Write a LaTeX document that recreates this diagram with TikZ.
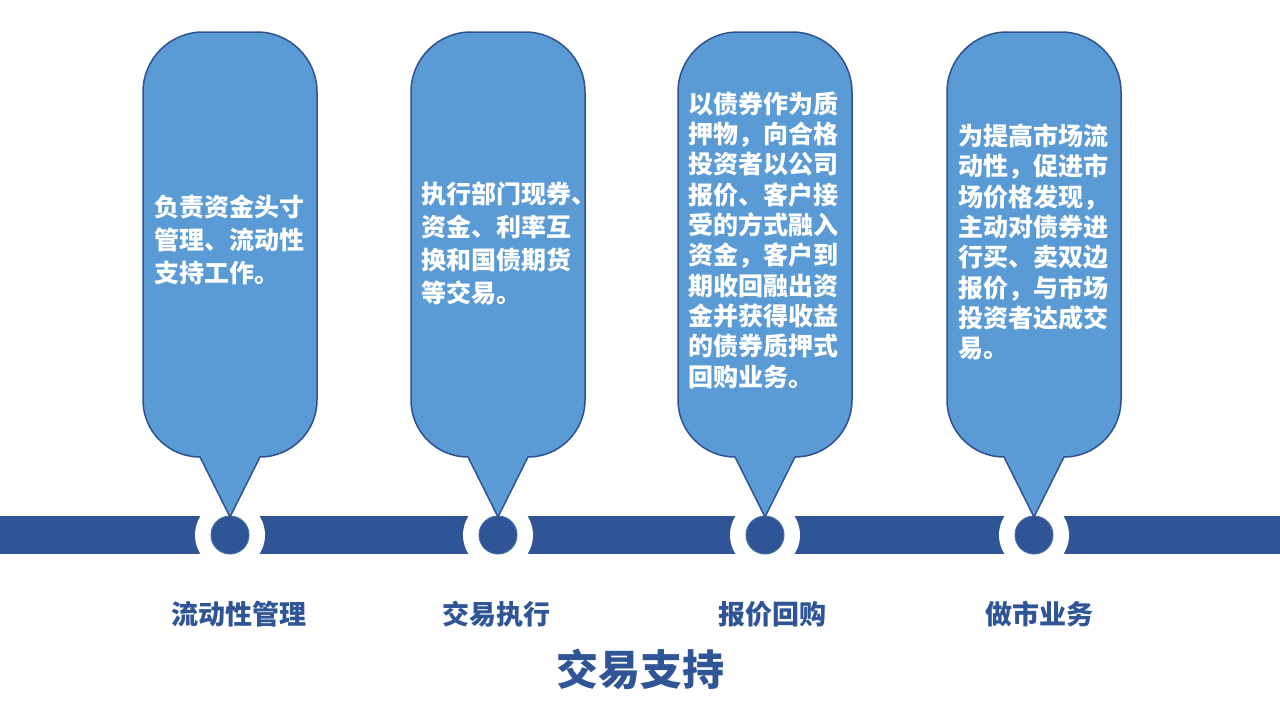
\documentclass[tikz,border=0pt]{standalone}
\usepackage{fontspec}
\newfontfamily\cjk{Noto Sans CJK SC}
\definecolor{bubfill}{HTML}{5B9BD5}
\definecolor{bubline}{HTML}{2F528F}
\definecolor{band}{HTML}{2F5597}
\definecolor{ringline}{HTML}{41719C}
\tikzset{
  bubble/.style={fill=bubfill, draw=bubline, line width=1.5pt, line join=round},
  bubtext/.style={anchor=west, align=left, text=white, inner sep=0pt,
    font={\cjk\bfseries\fontsize{25}{33}\selectfont}},
  bubtextdense/.style={bubtext, font={\cjk\bfseries\fontsize{25}{30.3}\selectfont}},
  dot/.style={circle, fill=band, draw=ringline, line width=1pt, minimum size=38pt, inner sep=0pt},
  gap/.style={circle, fill=white, minimum size=70pt, inner sep=0pt},
  label/.style={text=band, font={\cjk\bfseries\fontsize{27}{31}\selectfont}},
  title/.style={text=band, font={\cjk\bfseries\fontsize{42}{48}\selectfont}}
}
\newcommand{\callout}[1]{%
  \draw[bubble] ({#1+30},457) arc[start angle=90, end angle=0, radius=57]
    -- ({#1+87},92) arc[start angle=0, end angle=-90, radius=60]
    -- ({#1-27},32) arc[start angle=-90, end angle=-180, radius=60]
    -- ({#1-87},400) arc[start angle=180, end angle=90, radius=57]
    -- (#1,517) -- cycle;}
\begin{document}
\begin{tikzpicture}[x=1pt,y=-1pt]
\useasboundingbox (0,0) rectangle (1280,720);
\fill[white] (0,0) rectangle (1280,720);
% band
\fill[band] (0,516) rectangle (1280,554);
\node[gap] (g1) at (230,535) {};
\node[gap] (g2) at (498,535) {};
\node[gap] (g3) at (765,535) {};
\node[gap] (g4) at (1034,535) {};
\node[dot] (d1) at (230,535) {};
\node[dot] (d2) at (498,535) {};
\node[dot] (d3) at (765,535) {};
\node[dot] (d4) at (1034,535) {};
% callouts
\callout{230}
\callout{498}
\callout{765}
\callout{1034}
% texts
\node[bubtext] (t1) at (154,240) {负责资金头寸\\管理、流动性\\支持工作。};
\node[bubtext] (t2) at (421,243) {执行部门现券、\\资金、利率互\\换和国债期货\\等交易。};
\node[bubtextdense] (t3) at (688,240) {以债券作为质\\押物，向合格\\投资者以公司\\报价、客户接\\受的方式融入\\资金，客户到\\期收回融出资\\金并获得收益\\的债券质押式\\回购业务。};
\node[bubtextdense] (t4) at (958,242) {为提高市场流\\动性，促进市\\场价格发现，\\主动对债券进\\行买、卖双边\\报价，与市场\\投资者达成交\\易。};
% labels
\node[label] (l1) at (239,614) {流动性管理};
\node[label] (l2) at (496,614) {交易执行};
\node[label] (l3) at (772,614) {报价回购};
\node[label] (l4) at (1039,614) {做市业务};
\node[title] (ti) at (640,669) {交易支持};
\end{tikzpicture}
\end{document}
